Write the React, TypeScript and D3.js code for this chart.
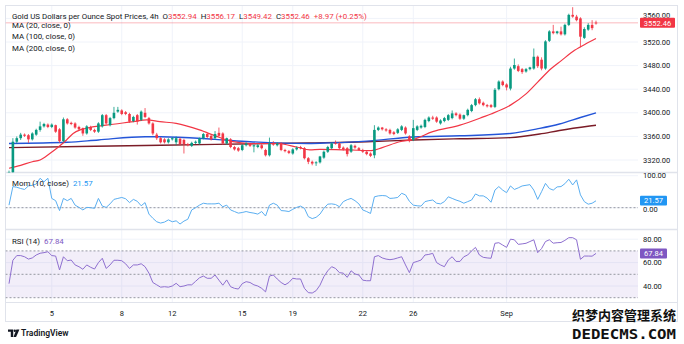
import React from 'react';
import * as d3 from 'd3';

const W = 684;
const H = 344;

// ---- Candles (4h) ----
const opens = [3296,3299,3351,3357,3363,3362,3355,3363,3371,3377,
 3380,3376,3379,3372,3352,3389,3383,3382,3376,3374,
 3365,3376,3371,3368,3377,3396,3379,3391,3402,3404,
 3401,3398,3386,3396,3388,3400,3391,3382,3363,3357,
 3355,3350,3355,3350,3356,3354,3347,3344,3349,3348,
 3357,3364,3361,3357,3366,3365,3348,3355,3342,3340,
 3337,3345,3347,3343,3342,3345,3337,3328,3348,3345,
 3348,3337,3335,3331,3338,3342,3340,3323,3317,3315,
 3316,3324,3334,3340,3349,3348,3341,3340,3334,3344,
 3340,3337,3334,3331,3328,3371,3375,3372,3371,3367,
 3366,3371,3375,3360,3354,3371,3375,3376,3386,3392,
 3392,3382,3386,3388,3391,3399,3397,3390,3396,3403,
 3413,3423,3417,3413,3413,3410,3440,3453,3448,3441,
 3475,3479,3474,3470,3474,3475,3495,3490,3475,3522,
 3538,3535,3538,3533,3549,3566,3563,3560,3527,3541,
 3549,3552.94];
const highs = [3302,3357,3360,3366,3365,3364,3367,3373,3385,3383,
 3382,3382,3380,3374,3392,3391,3385,3384,3378,3375,
 3379,3378,3373,3384,3398,3398,3393,3410,3410,3406,
 3403,3400,3395,3398,3404,3408,3393,3384,3366,3359,
 3357,3357,3359,3360,3358,3356,3349,3351,3353,3358,
 3366,3366,3363,3369,3375,3367,3358,3357,3344,3342,
 3347,3350,3349,3346,3347,3347,3339,3358,3352,3350,
 3350,3339,3337,3340,3343,3344,3342,3325,3319,3318,
 3327,3336,3344,3350,3353,3350,3343,3342,3347,3346,
 3342,3339,3336,3333,3379,3377,3376,3374,3373,3369,
 3374,3379,3377,3362,3388,3379,3380,3390,3394,3395,
 3394,3389,3393,3398,3404,3401,3399,3397,3407,3415,
 3425,3426,3419,3415,3415,3442,3455,3455,3450,3478,
 3492,3482,3476,3476,3478,3509,3497,3494,3523,3540,
 3549,3539,3546,3551,3568,3579,3566,3562,3545,3552,
 3557,3556.17];
const lows = [3290,3295,3348,3354,3359,3349,3353,3361,3368,3375,
 3374,3374,3366,3349,3350,3380,3379,3373,3370,3361,
 3363,3369,3366,3366,3375,3380,3377,3389,3400,3396,
 3396,3383,3384,3380,3386,3391,3380,3362,3354,3348,
 3348,3348,3353,3345,3345,3331,3343,3342,3347,3346,
 3355,3357,3353,3355,3360,3346,3346,3340,3336,3334,
 3335,3343,3342,3333,3340,3338,3326,3326,3344,3343,
 3335,3333,3330,3329,3336,3338,3321,3313,3311,3310,
 3314,3322,3332,3338,3346,3338,3336,3326,3332,3339,
 3336,3332,3328,3325,3323,3369,3370,3368,3363,3362,
 3364,3369,3363,3350,3352,3369,3373,3374,3384,3388,
 3383,3380,3384,3386,3389,3394,3388,3388,3394,3401,
 3411,3414,3411,3409,3408,3408,3438,3445,3438,3438,
 3473,3469,3466,3468,3472,3473,3476,3472,3473,3520,
 3533,3533,3531,3531,3547,3561,3555,3511,3525,3539,
 3540,3549.42];
const closes = [3299,3351,3357,3363,3361,3355,3365,3371,3377,3381,
 3376,3380,3368,3352,3389,3382,3381,3375,3372,3365,
 3377,3371,3368,3382,3396,3382,3391,3400,3405,3398,
 3398,3385,3393,3385,3402,3393,3382,3365,3357,3350,
 3350,3355,3357,3357,3347,3347,3345,3349,3351,3357,
 3364,3359,3355,3364,3361,3348,3357,3342,3338,3336,
 3345,3348,3344,3345,3345,3340,3328,3348,3346,3348,
 3337,3335,3332,3338,3341,3340,3323,3317,3314,3316,
 3326,3334,3342,3348,3348,3340,3338,3330,3345,3341,
 3337,3334,3330,3327,3371,3375,3372,3370,3365,3364,
 3372,3377,3365,3352,3374,3377,3378,3388,3392,3390,
 3385,3387,3391,3396,3399,3396,3390,3396,3405,3413,
 3423,3416,3413,3411,3410,3439,3453,3447,3443,3475,
 3481,3471,3469,3474,3477,3495,3479,3475,3521,3538,
 3535,3538,3533,3549,3566,3563,3557,3529,3542,3549,
 3543.5,3552.46];

// ---- Moving averages (read at points: bar index / value) ----
const ma20Idx = [0, 3, 6, 8, 10.5, 12.3, 14.8, 16.5, 18.3, 20, 25, 32, 35.4, 38.8, 43, 49, 53.4, 57.6, 62, 68.8, 74, 77.4, 80, 87.7, 93.2, 96, 100.5, 104, 109, 116, 122, 124, 129, 133, 136, 139.5, 142, 145.5, 149, 151];
const ma20Val = [3306, 3311, 3317, 3320, 3331, 3340, 3354, 3365, 3371, 3374, 3379, 3385, 3388, 3385, 3382, 3371, 3360, 3351, 3348, 3348, 3342, 3337, 3338, 3337, 3336, 3341, 3351, 3355, 3368, 3379, 3393, 3398, 3413, 3432, 3452, 3475, 3488, 3506, 3519, 3526];
const ma100Idx = [0, 15, 23, 35, 39, 53, 62, 77, 82.5, 92, 104, 116, 129, 136.5, 141.6, 147, 151];
const ma100Val = [3348, 3350, 3354, 3359.5, 3359.5, 3355, 3351, 3348, 3349, 3352, 3359, 3361, 3365, 3373.5, 3381, 3392, 3400];
const ma200Idx = [0, 39, 77, 92, 104, 116, 129, 136.5, 141.6, 149.4, 151];
const ma200Val = [3341, 3345, 3349, 3351, 3354, 3356, 3358, 3364, 3370, 3377.6, 3379];

// ---- Momentum (10, close) ----
const mom = [8,66,64,60,57,68,70,74,92,81,
 92,29,22,-9,29,22,29,8,1,-7,
 1,0,-2,29,5,1,12,26,29,32,
 28,16,26,20,6,16,-20,-33,-44,-48,
 -45,-38,-44,-41,-51,-42,-36,-7,0,8,
 14,12,12,12,14,3,8,-7,-12,-17,
 -15,-12,-15,-17,-20,-12,-26,8,14,8,
 -9,-10,-12,-5,1,5,-2,-28,-34,-30,
 -20,-2,11,12,10,3,19,25,29,22,
 12,-7,-12,-18,34,37,38,37,29,30,
 32,45,40,20,8,6,5,19,22,24,
 14,12,19,34,29,24,20,14,19,24,
 43,37,37,30,17,55,66,55,47,68,
 57,62,68,70,72,55,26,50,76,60,
 55,65,66,75,89,71,87,40,19,11,
 14,21.57];

// ---- RSI (14) ----
const rsi = [42,62,66,66,65,63,64,66.5,68,68.5,
 69.3,66,65.6,53.7,65,61.6,62.2,58,56.5,54.3,
 58,56,54.5,60,63.7,55,58,62,62,61.6,
 59,55,58,58,59,56.5,51,43,41,39,
 39.4,39,40,42.3,39.4,40,41,41,44,47,
 48.5,46.6,46.6,49.4,45,40.7,45.2,39.4,38,37.4,
 42,43.7,43,41,40,38,35,48.5,49.4,46,
 43,41,43,46.6,46,46,38,34.3,34,36,
 40.7,48,53,56.5,55,51.4,51,47.4,53,50.3,
 49.4,45,44.5,44.5,65,66,64,63,62.5,63,
 64,65,58,51.4,60,61,62.2,66.5,67,67.9,
 60,58,56.5,62.2,65,61,61,65,66.5,70,
 73,66.5,64.5,64,63.7,76.5,77,75,73,80,
 79.5,75.6,76,76.5,78,79.5,68.5,72,78,79.5,
 76.6,77,77.2,79,81.3,81.3,79.5,62.8,65.6,65.6,
 65.5,67.84];

// ---- Axes ----
const priceTicks = [3320, 3360, 3400, 3440, 3480, 3520, 3560];
const momTicks = [0, 100];
const rsiTicks = [40, 60, 80];
const rsiLevels = [70, 50, 30];
const xTickIdx = [11, 29, 42, 60, 73, 91, 104, 128];
const xTickLabels = ['5', '8', '12', '15', '19', '22', '26', 'Sep'];

const lastPrice = 3552.46;
const legendOHLC = [['O', '3552.94'], ['H', '3556.17'], ['L', '3549.42'], ['C', '3552.46']];

const UP = '#089981';
const DOWN = '#F23645';
const FONT = 'Roboto, "Liberation Sans", sans-serif';
const TXT = '#131722';

export default function App() {
  const left = 5.5, right = 677.5, plotRight = 638;
  const x = d3.scaleLinear().domain([0, 151]).range([9, 596]);
  const yP = d3.scaleLinear().domain([3320, 3520]).range([160, 42]);
  const yM = d3.scaleLinear().domain([0, 100]).range([207.7, 175.7]);
  const yR = d3.scaleLinear().domain([30, 70]).range([297.7, 250.9]);

  const pTop = 6, pBot = 172.5, mTop = 173, mBot = 229.5, rTop = 230, rBot = 302.5, xBot = 321.5;

  const maLine = (idx: number[], val: number[]) =>
    d3.line<number>().x((_, i) => x(idx[i])).y((v) => yP(v)).curve(d3.curveMonotoneX)(val) || '';
  const momPath = d3.line<number>().x((_, i) => x(i)).y((v) => yM(v))(mom) || '';
  const rsiPath = d3.line<number>().x((_, i) => x(i)).y((v) => yR(v))(rsi) || '';

  const bw = 2.6;
  const fs = 7.5;
  const lfs = 7.9;
  const tagY = yP(lastPrice);

  return (
    <svg width={W} height={H} style={{ position: 'fixed', left: 0, top: 0, background: '#fff' }} fontFamily={FONT}>
      <defs>
        <clipPath id="pclip"><rect x={left} y={pTop} width={plotRight - left} height={pBot - pTop} /></clipPath>
        <clipPath id="mclip"><rect x={left} y={mTop} width={plotRight - left} height={mBot - mTop} /></clipPath>
        <clipPath id="rclip"><rect x={left} y={rTop} width={plotRight - left} height={rBot - rTop} /></clipPath>
        <clipPath id="topLabel"><rect x={640} y={pTop} width={40} height={tagY - 5 - pTop} /></clipPath>
      </defs>
      <rect x={0} y={0} width={W} height={H} fill="#fff" />
      {/* grid */}
      {xTickIdx.map((t, i) => (
        <line key={'vg' + i} x1={x(t)} x2={x(t)} y1={pTop} y2={rBot} stroke="#f0f3fa" strokeWidth={1} />
      ))}
      {priceTicks.map((t) => (
        <line key={'pg' + t} x1={left} x2={plotRight} y1={yP(t)} y2={yP(t)} stroke="#f0f3fa" />
      ))}
      {momTicks.map((t) => (
        <line key={'mg' + t} x1={left} x2={plotRight} y1={yM(t)} y2={yM(t)} stroke="#f0f3fa" />
      ))}
      {rsiTicks.map((t) => (
        <line key={'rg' + t} x1={left} x2={plotRight} y1={yR(t)} y2={yR(t)} stroke="#f0f3fa" />
      ))}

      {/* frame and separators */}
      <rect x={left} y={5.5} width={right - left} height={xBot - 5.5} fill="none" stroke="#e0e3eb" strokeWidth={1} />
      <line x1={left} x2={right} y1={pBot} y2={pBot} stroke="#e0e3eb" strokeWidth={1.5} />
      <line x1={left} x2={right} y1={mBot} y2={mBot} stroke="#e0e3eb" strokeWidth={1.5} />
      <line x1={left} x2={right} y1={rBot} y2={rBot} stroke="#e0e3eb" strokeWidth={1} />

      {/* price panel */}
      <g clipPath="url(#pclip)">
        <line x1={left} x2={640} y1={tagY} y2={tagY} stroke="#F23645" strokeOpacity={0.35} strokeWidth={1} />
        <path d={maLine(ma200Idx, ma200Val)} fill="none" stroke="#7b1c27" strokeWidth={1.4} />
        <path d={maLine(ma100Idx, ma100Val)} fill="none" stroke="#2455d8" strokeWidth={1.4} />
        <path d={maLine(ma20Idx, ma20Val)} fill="none" stroke="#F23645" strokeWidth={1.2} />
        {closes.map((c, i) => {
          const o = opens[i];
          const col = c >= o ? UP : DOWN;
          const yTop = yP(Math.max(o, c));
          const hgt = Math.max(0.9, Math.abs(yP(o) - yP(c)));
          return (
            <g key={'c' + i}>
              <line x1={x(i)} x2={x(i)} y1={yP(highs[i])} y2={yP(lows[i])} stroke={col} strokeWidth={0.8} />
              <rect x={x(i) - bw / 2} y={yTop} width={bw} height={hgt} fill={col} />
            </g>
          );
        })}
      </g>
      {priceTicks.filter((t) => t < 3550).map((t) => (
        <text key={'pt' + t} x={643} y={yP(t)} dy="0.35em" fontSize={fs} fill={TXT}>{t.toFixed(2)}</text>
      ))}
      <g clipPath="url(#topLabel)">
        <text x={643} y={15.3} dy="0.35em" fontSize={fs} fill={TXT}>3560.00</text>
      </g>
      <rect x={640} y={tagY - 5} width={35} height={10} rx={1} fill="#F23645" />
      <text x={657.5} y={tagY + 0.3} dy="0.35em" fontSize={fs} fill="#fff" textAnchor="middle">{lastPrice.toFixed(2)}</text>

      {/* legend */}
      <text x={12} y={18.6} fontSize={lfs} fill={TXT}>
        <tspan>Gold US Dollars per Ounce Spot Prices, 4h</tspan>
        {legendOHLC.map(([k, v]) => (
          <tspan key={k} dx={4}>
            <tspan fill={TXT}>{k}</tspan><tspan fill="#F23645">{v}</tspan>
          </tspan>
        ))}
        <tspan dx={4} fill="#F23645">+8.97 (+0.25%)</tspan>
      </text>
      <text x={12} y={28.1} fontSize={lfs} fill={TXT}>MA (20, close, 0)</text>
      <text x={12} y={39.4} fontSize={lfs} fill={TXT}>MA (100, close, 0)</text>
      <text x={12} y={50.6} fontSize={lfs} fill={TXT}>MA (200, close, 0)</text>

      {/* momentum panel */}
      <g clipPath="url(#mclip)">
        <line x1={left} x2={plotRight} y1={yM(0)} y2={yM(0)} stroke="#9598a1" strokeWidth={1} strokeDasharray="2,2" />
        <path d={momPath} fill="none" stroke="#5aaef0" strokeWidth={1} />
      </g>
      <text x={643} y={yM(100)} dy="0.35em" fontSize={fs} fill={TXT}>100.00</text>
      <text x={643} y={yM(0) + 1.8} dy="0.35em" fontSize={fs} fill={TXT}>0.00</text>
      <rect x={640} y={yM(21.57) - 5} width={27} height={9.6} rx={1} fill="#2196F3" />
      <text x={653.5} y={yM(21.57) - 0.3} dy="0.35em" fontSize={fs} fill="#fff" textAnchor="middle">21.57</text>
      <text x={12} y={185.5} fontSize={lfs} fill={TXT}>
        <tspan>Mom (10, close)</tspan><tspan dx={4} fill="#2196F3">21.57</tspan>
      </text>

      {/* RSI panel */}
      <g clipPath="url(#rclip)">
        <rect x={left} y={yR(70)} width={plotRight - left} height={yR(30) - yR(70)} fill="#7E57C2" fillOpacity={0.1} />
        {rsiLevels.map((l) => (
          <line key={'rl' + l} x1={left} x2={plotRight} y1={yR(l)} y2={yR(l)} stroke="#9598a1" strokeWidth={1} strokeDasharray="2,2" />
        ))}
        <path d={rsiPath} fill="none" stroke="#8e6fcf" strokeWidth={1} />
      </g>
      {rsiTicks.map((t) => (
        <text key={'rt' + t} x={643} y={yR(t)} dy="0.35em" fontSize={fs} fill={TXT}>{t.toFixed(2)}</text>
      ))}
      <rect x={640} y={yR(67.84) - 5} width={27} height={10} rx={1} fill="#7E57C2" />
      <text x={653.5} y={yR(67.84)} dy="0.35em" fontSize={fs} fill="#fff" textAnchor="middle">67.84</text>
      <text x={12} y={243.5} fontSize={lfs} fill={TXT}>
        <tspan>RSI (14)</tspan><tspan dx={4} fill="#7E57C2">67.84</tspan>
      </text>

      {/* x axis */}
      {xTickIdx.map((t, i) => (
        <text key={'xt' + i} x={x(t)} y={313} dy="0.35em" fontSize={fs} fill={TXT} textAnchor="middle">{xTickLabels[i]}</text>
      ))}

      {/* TradingView logo */}
      <g fill={TXT}>
        <path d="M8 329.5 h5.2 v7.5 h-2.4 v-5.2 h-2.8 z" />
        <circle cx={14.8} cy={330.8} r={1.2} />
        <path d="M16.4 329.5 h3 l-3.3 7.5 h-2.6 z" />
        <text x={21} y={336.3} fontSize={8.5} fontWeight={600}>TradingView</text>
      </g>

      {/* watermark */}
      <text x={572} y={320} fontSize={13} fontWeight={700} fill="#111" fontFamily='"Noto Sans CJK SC", sans-serif' textLength={104} lengthAdjust="spacingAndGlyphs">织梦内容管理系统</text>
      <text x={572} y={339} fontSize={14} fontWeight={700} fill="#111" fontFamily='"DejaVu Sans Mono", monospace' textLength={104} lengthAdjust="spacingAndGlyphs">DEDECMS.COM</text>
    </svg>
  );
}
